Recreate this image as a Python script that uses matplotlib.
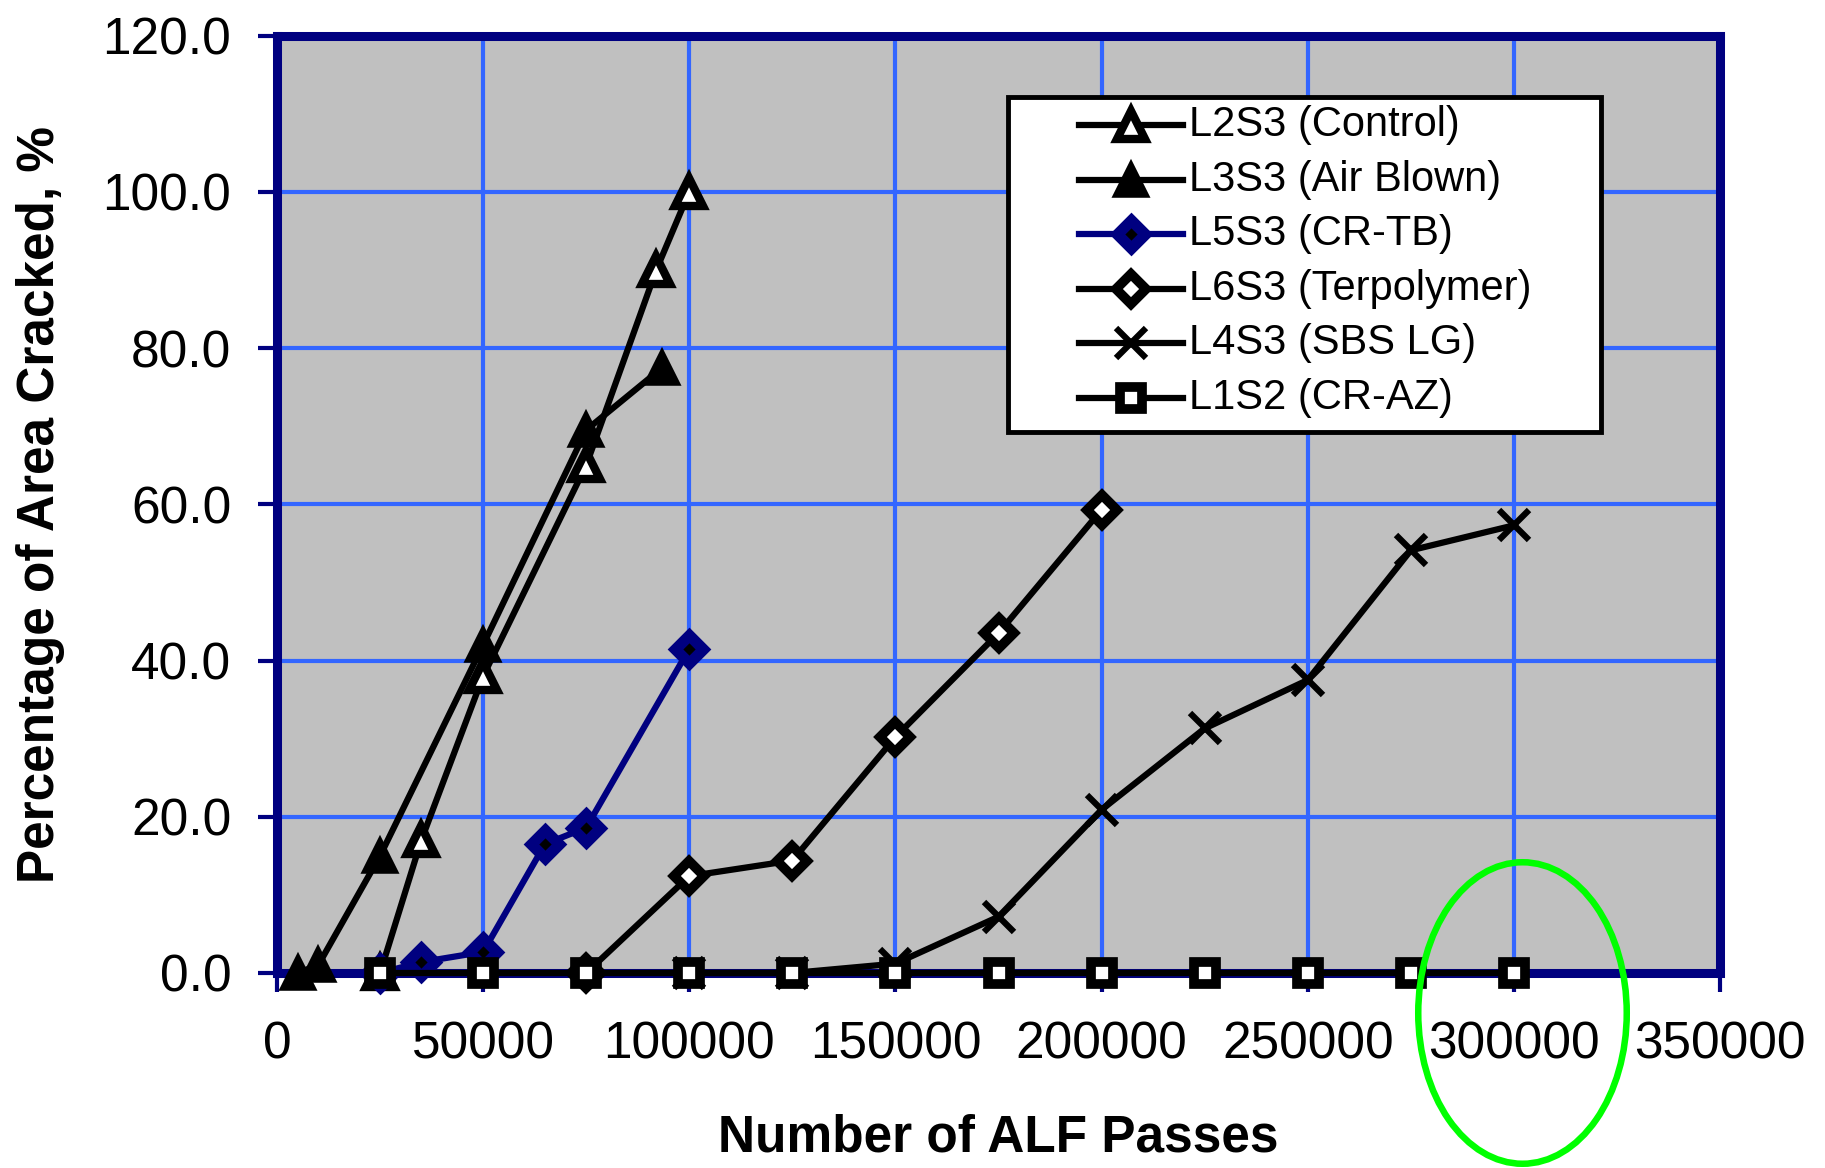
import matplotlib
matplotlib.use("Agg")
import matplotlib.pyplot as plt
import matplotlib.patches as mpatches
from matplotlib.lines import Line2D
from matplotlib.ticker import FormatStrFormatter
import numpy as np

plt.rcParams['font.family'] = ['Liberation Sans', 'DejaVu Sans']

# data (ALF passes vs % area cracked)
labels = ["L2S3 (Control)", "L3S3 (Air Blown)", "L5S3 (CR-TB)",
          "L6S3 (Terpolymer)", "L4S3 (SBS LG)", "L1S2 (CR-AZ)"]

x_l2s3 = [25000, 35000, 50000, 75000, 92000, 100000]
y_l2s3 = [0, 17, 38, 65, 90, 100]

x_l3s3 = [5000, 10000, 25000, 50000, 75000, 93500]
y_l3s3 = [0, 1, 15, 42, 69.5, 77.5]

x_l5s3 = [25000, 35000, 50000, 65000, 75000, 100000]
y_l5s3 = [0, 1.4, 2.7, 16.5, 18.6, 41.5]

x_l6s3 = [75000, 100000, 125000, 150000, 175000, 200000]
y_l6s3 = [0, 12.4, 14.4, 30.2, 43.5, 59.3]

x_l4s3 = [100000, 125000, 150000, 175000, 200000, 225000, 250000, 275000, 300000]
y_l4s3 = [0, 0, 1.2, 7.2, 20.9, 31.3, 37.5, 54.1, 57.3]

x_l1s2 = [25000, 50000, 75000, 100000, 125000, 150000, 175000, 200000,
          225000, 250000, 275000, 300000]
y_l1s2 = [0, 0, 0, 0, 0, 0, 0, 0, 0, 0, 0, 0]

xs = [x_l2s3, x_l3s3, x_l5s3, x_l6s3, x_l4s3, x_l1s2]
ys = [y_l2s3, y_l3s3, y_l5s3, y_l6s3, y_l4s3, y_l1s2]

NAVY = "#000080"
styles = {
    "L2S3 (Control)": dict(color="black", marker="^", ms=20, mfc="white", mec="black", mew=6),
    "L3S3 (Air Blown)": dict(color="black", marker="^", ms=22, mfc="black", mec="black", mew=4),
    "L5S3 (CR-TB)": dict(color=NAVY, marker="D", ms=14, mfc="black", mec=NAVY, mew=8),
    "L6S3 (Terpolymer)": dict(color="black", marker="D", ms=15, mfc="white", mec="black", mew=7),
    "L4S3 (SBS LG)": dict(color="black", marker="x", ms=22, mew=4.5),
    "L1S2 (CR-AZ)": dict(color="black", marker="s", ms=16, mfc="white", mec="black", mew=7),
}

W, H = 1825, 1168


def fx(px):
    return px / W


def fy(py):
    return 1 - py / H


fig = plt.figure(figsize=(W / 100, H / 100), dpi=100)
ax = fig.add_axes([fx(277), fy(973), fx(1720) - fx(277), fy(35.5) - fy(973)])

for i, lab in enumerate(labels):
    ax.plot(xs[i], ys[i], lw=4.5, clip_on=False, zorder=3 + i, **styles[lab])

ax.set_xlim(0, 350000)
ax.set_ylim(0, 120)
ax.set_xticks(np.arange(0, 350001, 50000))
ax.set_yticks(np.arange(0, 121, 20))
ax.yaxis.set_major_formatter(FormatStrFormatter('%.1f'))
ax.set_facecolor("#C0C0C0")
ax.grid(True, color="#3366FF", lw=3)
ax.set_axisbelow(True)
for s in ax.spines.values():
    s.set_color(NAVY)
    s.set_linewidth(6.5)
    s.set_zorder(2.5)
ax.tick_params(direction="out", length=14, width=3, color=NAVY, labelsize=37)
ax.tick_params(axis="x", pad=20)
ax.tick_params(axis="y", pad=19)

ax.set_xlabel("Number of ALF Passes", fontsize=37, fontweight="bold")
ax.set_ylabel("Percentage of Area Cracked, %", fontsize=37, fontweight="bold")
ax.xaxis.set_label_coords(0.5, -0.15)
ax.yaxis.set_label_coords(-0.147, 0.5)

# legend box drawn by hand to match the original layout
box = mpatches.Rectangle((fx(1008), fy(432)), fx(1601) - fx(1008), fy(97) - fy(432),
                         transform=fig.transFigure, facecolor="white", edgecolor="black",
                         lw=3.5, zorder=10)
fig.add_artist(box)
for i, lab in enumerate(labels):
    yc = 125 + 54.6 * i
    st = dict(styles[lab])
    fig.add_artist(Line2D([fx(1079), fx(1183)], [fy(yc), fy(yc)], transform=fig.transFigure,
                          color=st["color"], lw=4.5, zorder=11))
    st.pop("color")
    fig.add_artist(Line2D([fx(1131)], [fy(yc)], transform=fig.transFigure, ls="none",
                          color=styles[lab]["color"], zorder=12, **st))
    fig.text(fx(1189), fy(yc), lab, fontsize=30, va="center", ha="left", zorder=13)

ell = mpatches.Ellipse((fx(1522.5), fy(1013)), 208.5 / W, 301.5 / H, transform=fig.transFigure,
                       fill=False, edgecolor="#00FF00", lw=4.7, zorder=20)
fig.add_artist(ell)

fig.savefig("out.png", dpi=100)
